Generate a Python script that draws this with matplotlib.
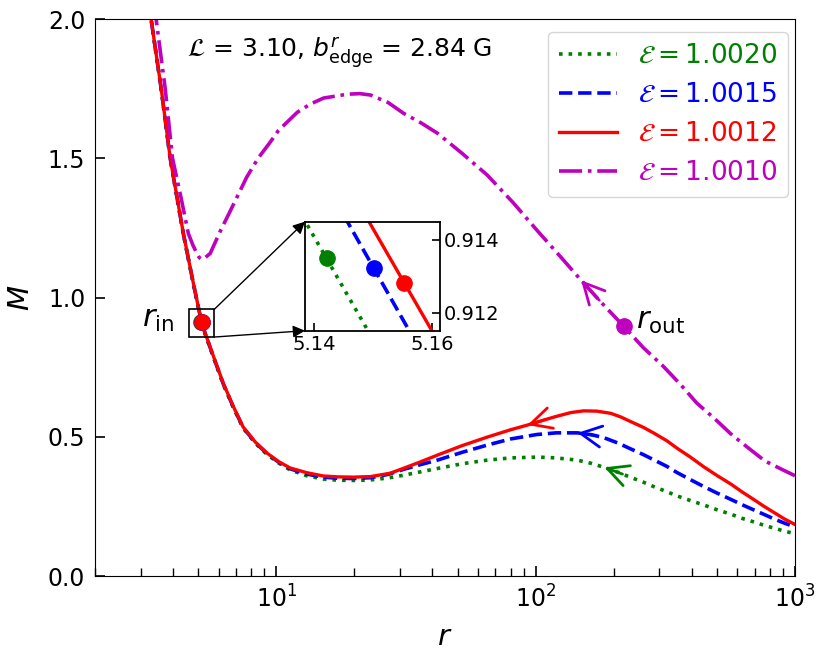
import numpy as np
import matplotlib
matplotlib.use('Agg')
import matplotlib.pyplot as plt
from matplotlib.patches import Rectangle

# ---------------- data ----------------
labels = [r'$\mathcal{E}=1.0020$', r'$\mathcal{E}=1.0015$',
          r'$\mathcal{E}=1.0012$', r'$\mathcal{E}=1.0010$']
colors = ['g', 'b', 'r', 'm']
styles = [':', '--', '-', '-.']

r_g = [3.22, 3.29, 3.60, 3.90, 4.38, 4.78, 5.12, 5.18, 5.32, 5.76, 6.24, 6.82, 7.45, 8.30, 9.22,
       10.2, 11.3, 13.1, 15.2, 17.3, 19.8, 23.1, 27.0, 31.0, 36.0, 41.8, 52.0, 65.0, 80.0, 102,
       120, 145, 163, 184, 207, 230, 260, 287, 320, 350, 395, 445, 500, 566, 625, 695, 760, 830,
       910, 1000]
M_g = [2.06, 2.00, 1.747, 1.497, 1.228, 1.052, 0.9197, 0.9028, 0.868, 0.778, 0.689, 0.606,
       0.531, 0.477, 0.436, 0.406, 0.381, 0.360, 0.348, 0.344, 0.343, 0.345, 0.352, 0.362, 0.374,
       0.386, 0.403, 0.416, 0.424, 0.427, 0.424, 0.416, 0.405, 0.390, 0.373, 0.356, 0.337, 0.320,
       0.303, 0.288, 0.271, 0.255, 0.238, 0.222, 0.207, 0.194, 0.182, 0.172, 0.161, 0.152]

r_b = [3.22, 3.29, 3.60, 3.90, 4.38, 4.78, 5.12, 5.18, 5.32, 5.76, 6.24, 6.82, 7.45, 8.30, 9.22,
       10.2, 11.3, 13.1, 15.2, 17.3, 19.8, 23.1, 27.0, 31.0, 36.0, 41.8, 52.0, 65.0, 80.0, 101,
       120, 145, 165, 184, 207, 233, 260, 287, 320, 350, 395, 445, 500, 566, 625, 695, 760, 830,
       910, 1000]
M_b = [2.06, 2.00, 1.749, 1.499, 1.230, 1.054, 0.9218, 0.9047, 0.870, 0.780, 0.691, 0.608,
       0.533, 0.479, 0.439, 0.409, 0.385, 0.366, 0.355, 0.351, 0.350, 0.353, 0.365, 0.383, 0.400,
       0.416, 0.444, 0.470, 0.492, 0.508, 0.514, 0.514, 0.507, 0.496, 0.478, 0.456, 0.436, 0.416,
       0.394, 0.372, 0.346, 0.321, 0.298, 0.275, 0.256, 0.237, 0.221, 0.205, 0.190, 0.176]

r_r = [3.22, 3.29, 3.60, 3.90, 4.38, 4.78, 5.12, 5.18, 5.32, 5.76, 6.24, 6.82, 7.45, 8.30, 9.22,
       10.2, 11.3, 13.1, 15.2, 17.3, 19.8, 23.1, 27.5, 31.0, 36.0, 41.8, 52.0, 65.2, 80.0, 93.0,
       105, 120, 137, 153, 172, 195, 213, 233, 260, 287, 320, 352, 395, 445, 500, 566, 625, 695,
       760, 830, 910, 1000]
M_r = [2.06, 2.00, 1.750, 1.50, 1.231, 1.055, 0.9227, 0.9059, 0.872, 0.782, 0.693, 0.610, 0.535,
       0.481, 0.441, 0.411, 0.388, 0.371, 0.359, 0.356, 0.355, 0.357, 0.369, 0.387, 0.410, 0.434,
       0.468, 0.499, 0.525, 0.542, 0.557, 0.573, 0.587, 0.593, 0.592, 0.584, 0.571, 0.554, 0.534,
       0.512, 0.486, 0.458, 0.427, 0.392, 0.361, 0.330, 0.302, 0.274, 0.250, 0.228, 0.205, 0.185]

r_m = [3.38, 3.44, 3.73, 3.98, 4.28, 4.58, 4.76, 4.94, 5.05, 5.16, 5.30, 5.56, 6.08, 6.64, 7.7,
       8.51, 9.48, 10.2, 12.05, 13.5, 15.2, 18.8, 21.0, 23.1, 27.0, 31.0, 36.0, 41.8, 52.0, 65.0,
       82.0, 101.5, 124.8, 149.7, 180, 219, 260, 309, 360, 418, 490, 566, 660, 766, 880, 1000]
M_m = [2.06, 2.00, 1.75, 1.50, 1.364, 1.23, 1.19, 1.158, 1.143, 1.137, 1.142, 1.158, 1.238, 1.31,
       1.433, 1.50, 1.558, 1.60, 1.665, 1.694, 1.716, 1.730, 1.732, 1.727, 1.700, 1.661, 1.628,
       1.590, 1.518, 1.440, 1.340, 1.240, 1.146, 1.062, 0.980, 0.896, 0.820, 0.755, 0.690, 0.621,
       0.565, 0.510, 0.460, 0.413, 0.385, 0.360]

# inner sonic points (r_in) for E = 1.0020, 1.0015, 1.0012
rin_r = [5.1421, 5.1501, 5.1553]
rin_M = [0.91351, 0.91322, 0.9128]
# outer sonic point (r_out) for E = 1.0010
rout_r = 219
rout_M = 0.896

# arrow tip positions (r) along each curve
arrow_r = [184, 145, 93, 149.7]

curves = [(r_g, M_g), (r_b, M_b), (r_r, M_r), (r_m, M_m)]

# ---------------- figure ----------------
fig = plt.figure(figsize=(8.30, 6.61), dpi=100)
ax = fig.add_axes([0.11446, 0.12859, 0.84337, 0.84266])

lw = 2.6
lines = []
for (rr, MM), c, ls, lab in zip(curves, colors, styles, labels):
    ln, = ax.plot(rr, MM, ls, color=c, lw=lw if ls != '-' else 2.4, label=lab)
    lines.append(ln)

# sonic-point dots
for rr, MM, c in zip(rin_r, rin_M, colors[:3]):
    ax.plot([rr], [MM], 'o', color=c, ms=11, zorder=5)
ax.plot([rout_r], [rout_M], 'o', color='m', ms=11, zorder=5)

# direction arrows
for (rr, MM), c, ra in zip(curves, colors, arrow_r):
    lr = np.log10(rr)
    tip_M = np.interp(np.log10(ra), lr, MM)
    tail_r = ra * 10 ** (0.07)
    tail_M = np.interp(np.log10(tail_r), lr, MM)
    ax.annotate('', xy=(ra, tip_M), xytext=(tail_r, tail_M),
                arrowprops=dict(arrowstyle='->,head_length=0.75,head_width=0.38',
                                color=c, lw=2.0, mutation_scale=20,
                                shrinkA=0, shrinkB=0), zorder=6)

ax.set_xscale('log')
ax.set_xlim(2, 1000)
ax.set_ylim(0, 2)
ax.set_yticks([0.0, 0.5, 1.0, 1.5, 2.0])
ax.set_yticklabels(['0.0', '0.5', '1.0', '1.5', '2.0'])
ax.tick_params(which='major', direction='in', length=7, width=1.2, labelsize=17, pad=7)
ax.tick_params(which='minor', direction='in', length=6, width=1.0)
ax.set_xlabel(r'$r$', fontsize=21, labelpad=7)
ax.set_ylabel(r'$M$', fontsize=21, labelpad=9)

# parameter text
ax.text(0.131, 0.931, r'$\mathcal{L}$ = 3.10, $b^{r}_{\rm edge}$ = 2.84 G',
        transform=ax.transAxes, fontsize=18, ha='left', va='baseline')

# labels for sonic points
ax.text(0.113, 0.447, r'$r_{\rm in}$', transform=ax.transAxes, fontsize=22,
        ha='right', va='baseline')
ax.text(0.773, 0.4434, r'$r_{\rm out}$', transform=ax.transAxes, fontsize=22,
        ha='left', va='baseline')

# legend
leg = ax.legend(loc='upper right', bbox_to_anchor=(1.0086, 1.0), fontsize=19,
                handlelength=2.2, frameon=True)
for t, ln in zip(leg.get_texts(), lines):
    t.set_color(ln.get_color())

# zoom box
bx0, bx1, by0, by1 = 4.62, 5.76, 0.858, 0.957
ax.add_patch(Rectangle((bx0, by0), bx1 - bx0, by1 - by0, fill=False, ec='k', lw=1.2, zorder=7))

# inset
axins = fig.add_axes([0.3675, 0.4997, 0.1627, 0.165])
for (rr, MM), c, ls in zip(curves[:3], colors[:3], styles[:3]):
    axins.plot(rr, MM, ls, color=c, lw=lw if ls != '-' else 2.4)
for rr, MM, c in zip(rin_r, rin_M, colors[:3]):
    axins.plot([rr], [MM], 'o', color=c, ms=11)
axins.set_xlim(5.1384, 5.1614)
axins.set_ylim(0.9115, 0.9145)
axins.set_xticks([5.14, 5.16])
axins.set_xticklabels(['5.14', '5.16'])
axins.set_yticks([0.912, 0.914])
axins.set_yticklabels(['0.912', '0.914'])
axins.yaxis.tick_right()
axins.tick_params(direction='in', length=6, width=1.2, labelsize=14, pad=3)
for s in axins.spines.values():
    s.set_linewidth(1.3)

# connectors
for yb, yi in [(by1, 1.0), (by0, 0.0)]:
    ax.annotate('', xy=(0.0, yi), xycoords=axins.transAxes,
                xytext=(bx1, yb), textcoords='data',
                arrowprops=dict(arrowstyle='-|>', color='k', lw=1.0,
                                mutation_scale=18, shrinkA=0, shrinkB=0))

fig.savefig('out.png', dpi=100)
